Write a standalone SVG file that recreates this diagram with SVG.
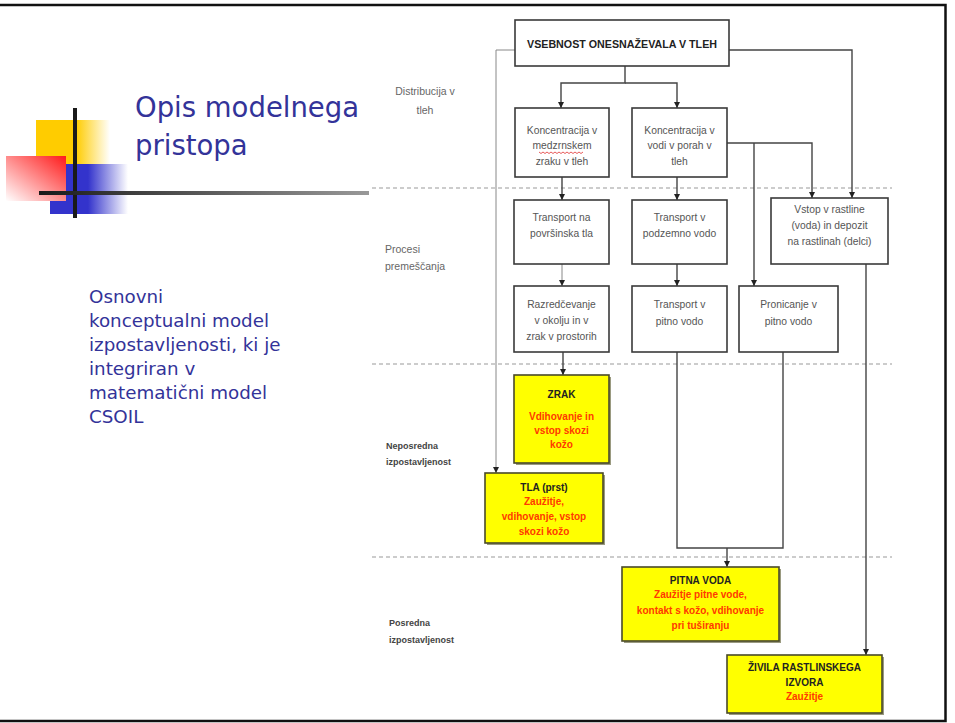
<svg xmlns="http://www.w3.org/2000/svg" width="955" height="723" viewBox="0 0 955 723">
<style>
.box{fill:#ffffff;stroke:#3a3a3a;stroke-width:1.6}
.ybox{fill:#ffff00;stroke:#4a4a2a;stroke-width:1.6}
.shadow{fill:#9a9a80}
.t{font-family:"Liberation Sans",Arial,sans-serif;font-size:10.3px;fill:#555555;text-anchor:middle}
.tb{font-family:"Liberation Sans",Arial,sans-serif;font-size:10px;font-weight:bold;fill:#222222;text-anchor:middle}
.tr{font-family:"Liberation Sans",Arial,sans-serif;font-size:10px;font-weight:bold;fill:#ff3a00;text-anchor:middle}
.lbl{font-family:"Liberation Sans",Arial,sans-serif;font-size:10.5px;fill:#666666}
.lblb{font-family:"Liberation Sans",Arial,sans-serif;font-size:9px;font-weight:bold;fill:#444444}
.conn{fill:none;stroke:#444444;stroke-width:1.4}
.thin{fill:none;stroke:#888888;stroke-width:1}
.dash{fill:none;stroke:#9a9a9a;stroke-width:1.2;stroke-dasharray:4 3}
.title{font-family:"DejaVu Sans",Tahoma,sans-serif;font-size:27.5px;fill:#333399}
.body{font-family:"DejaVu Sans",Tahoma,sans-serif;font-size:18.3px;fill:#333399}
</style>
<defs>
<marker id="arr" viewBox="0 0 6 6" refX="6" refY="3" markerWidth="6" markerHeight="6" markerUnits="userSpaceOnUse" orient="auto">
<path d="M0,0 L6,3 L0,6 z" fill="#222222"/>
</marker>
<linearGradient id="gy" x1="0" y1="0" x2="1" y2="0">
<stop offset="0" stop-color="#ffcc00"/>
<stop offset="1" stop-color="#ffcc00" stop-opacity="0"/>
</linearGradient>
<linearGradient id="gb" x1="0" y1="0" x2="1" y2="0">
<stop offset="0" stop-color="#3333cc"/>
<stop offset="1" stop-color="#3333cc" stop-opacity="0"/>
</linearGradient>
<linearGradient id="gr" x1="1" y1="0" x2="0" y2="1">
<stop offset="0" stop-color="#ff1a1a"/>
<stop offset="1" stop-color="#ffffff"/>
</linearGradient>
<linearGradient id="gl" x1="0" y1="0" x2="1" y2="0">
<stop offset="0" stop-color="#1a1a1a"/>
<stop offset="1" stop-color="#999999"/>
</linearGradient>
</defs>

<rect x="0" y="0" width="955" height="723" fill="#ffffff"/>
<rect x="-5" y="5" width="950.5" height="716" fill="none" stroke="#111111" stroke-width="2.5"/>

<g id="decor">
<rect x="36" y="120" width="40" height="44" fill="#ffcc00"/>
<rect x="76" y="120" width="34" height="44" fill="url(#gy)"/>
<rect x="50" y="164" width="38" height="50" fill="#3333cc"/>
<rect x="88" y="164" width="40" height="50" fill="url(#gb)"/>
<rect x="6" y="156" width="60" height="45" fill="url(#gr)"/>
<rect x="73" y="108" width="4" height="110" fill="#1a1a1a"/>
<rect x="39" y="191" width="330" height="4" fill="url(#gl)"/>
</g>

<g id="title">
<text class="title" x="135" y="117">Opis modelnega</text>
<text class="title" x="135" y="155">pristopa</text>
</g>

<g id="description">
<text class="body" x="89" y="303">Osnovni</text>
<text class="body" x="89" y="327">konceptualni model</text>
<text class="body" x="89" y="351">izpostavljenosti, ki je</text>
<text class="body" x="89" y="375">integriran v</text>
<text class="body" x="89" y="399">matematični model</text>
<text class="body" x="89" y="423">CSOIL</text>
</g>

<g id="separators">
<line class="dash" x1="372" y1="188" x2="892" y2="188"/>
<line class="dash" x1="372" y1="364" x2="892" y2="364"/>
<line class="dash" x1="372" y1="557" x2="892" y2="557"/>
</g>

<g id="side-labels">
<text class="lbl" x="425" y="95" text-anchor="middle">Distribucija v</text>
<text class="lbl" x="425" y="114" text-anchor="middle">tleh</text>
<text class="lbl" x="385" y="253">Procesi</text>
<text class="lbl" x="385" y="270">premeščanja</text>
<text class="lblb" x="386" y="449">Neposredna</text>
<text class="lblb" x="386" y="465">izpostavljenost</text>
<text class="lblb" x="389" y="626">Posredna</text>
<text class="lblb" x="389" y="643">izpostavljenost</text>
</g>

<g id="connectors">
<path class="conn" d="M625,66 V83 H561 V108" marker-end="url(#arr)"/>
<path class="conn" d="M625,83 H677 V108" marker-end="url(#arr)"/>
<path class="thin" d="M515,50 H496 V473" marker-end="url(#arr)"/>
<path class="conn" d="M729,50 H852 V198" marker-end="url(#arr)"/>
<path class="conn" d="M727,143 H812 V198" marker-end="url(#arr)"/>
<path class="conn" d="M754,143 V286" marker-end="url(#arr)"/>
<path class="conn" d="M562,177 V200" marker-end="url(#arr)"/>
<path class="thin" d="M562,264 V286" marker-end="url(#arr)"/>
<path class="conn" d="M563,352 V375" marker-end="url(#arr)"/>
<path class="conn" d="M677,177 V200" marker-end="url(#arr)"/>
<path class="conn" d="M677,264 V286" marker-end="url(#arr)"/>
<path class="conn" d="M677,352 V548 H783 V352"/>
<path class="conn" d="M727,548 V567" marker-end="url(#arr)"/>
<path class="conn" d="M866,264 V655" marker-end="url(#arr)"/>
</g>

<g id="node-vsebnost">
<rect class="box" x="515" y="20" width="214" height="46"/>
<text class="tb" x="622" y="48" font-size="10.5" textLength="190" lengthAdjust="spacingAndGlyphs">VSEBNOST ONESNAŽEVALA V TLEH</text>
</g>

<g id="node-konc-zrak">
<rect class="box" x="515" y="108" width="94" height="69"/>
<text class="t" x="562" y="134">Koncentracija  v</text>
<text class="t" x="562" y="149">medzrnskem</text>
<path d="M539,152 l2,1.5 l2,-1.5 l2,1.5 l2,-1.5 l2,1.5 l2,-1.5 l2,1.5 l2,-1.5 l2,1.5 l2,-1.5 l2,1.5 l2,-1.5 l2,1.5 l2,-1.5 l2,1.5 l2,-1.5 l2,1.5 l2,-1.5 l2,1.5 l2,-1.5 l2,1.5 l2,-1.5" fill="none" stroke="#e03030" stroke-width="0.8"/>
<text class="t" x="562" y="165">zraku v tleh</text>
</g>

<g id="node-konc-voda">
<rect class="box" x="632" y="108" width="95" height="69"/>
<text class="t" x="679.5" y="134">Koncentracija v</text>
<text class="t" x="679.5" y="149">vodi v porah v</text>
<text class="t" x="679.5" y="165">tleh</text>
</g>

<g id="node-transport-tla">
<rect class="box" x="514" y="200" width="95" height="64"/>
<text class="t" x="561.5" y="221">Transport na</text>
<text class="t" x="561.5" y="237">površinska tla</text>
</g>

<g id="node-transport-podzemna">
<rect class="box" x="632" y="200" width="95" height="64"/>
<text class="t" x="679.5" y="221">Transport v</text>
<text class="t" x="679.5" y="237">podzemno vodo</text>
</g>

<g id="node-vstop">
<rect class="box" x="771" y="198" width="117" height="66"/>
<text class="t" x="829.5" y="213">Vstop v rastline</text>
<text class="t" x="829.5" y="229">(voda)  in depozit</text>
<text class="t" x="829.5" y="245">na rastlinah (delci)</text>
</g>

<g id="node-razredcevanje">
<rect class="box" x="514" y="286" width="95" height="66"/>
<text class="t" x="561.5" y="308">Razredčevanje</text>
<text class="t" x="561.5" y="324">v okolju in v</text>
<text class="t" x="561.5" y="340">zrak v prostorih</text>
</g>

<g id="node-transport-pitna">
<rect class="box" x="632" y="286" width="95" height="66"/>
<text class="t" x="679.5" y="308">Transport v</text>
<text class="t" x="679.5" y="325">pitno vodo</text>
</g>

<g id="node-pronicanje">
<rect class="box" x="739" y="286" width="99" height="66"/>
<text class="t" x="788.5" y="308">Pronicanje  v</text>
<text class="t" x="788.5" y="325">pitno vodo</text>
</g>

<g id="node-zrak">
<rect class="shadow" x="516" y="377" width="95" height="88"/>
<rect class="ybox" x="514" y="375" width="95" height="88"/>
<text class="tb" x="561.5" y="398">ZRAK</text>
<text class="tr" x="561.5" y="420">Vdihovanje  in</text>
<text class="tr" x="561.5" y="434">vstop  skozi</text>
<text class="tr" x="561.5" y="448">kožo</text>
</g>

<g id="node-tla">
<rect class="shadow" x="487" y="475" width="118" height="70"/>
<rect class="ybox" x="485" y="473" width="118" height="70"/>
<text class="tb" x="544" y="491">TLA (prst)</text>
<text class="tr" x="544" y="505">Zaužitje,</text>
<text class="tr" x="544" y="520">vdihovanje,  vstop</text>
<text class="tr" x="544" y="535">skozi  kožo</text>
</g>

<g id="node-pitna">
<rect class="shadow" x="624" y="569" width="157" height="74"/>
<rect class="ybox" x="622" y="567" width="157" height="74"/>
<text class="tb" x="700.5" y="584">PITNA VODA</text>
<text class="tr" x="700.5" y="598">Zaužitje pitne vode,</text>
<text class="tr" x="700.5" y="614">kontakt s kožo, vdihovanje</text>
<text class="tr" x="700.5" y="629">pri tuširanju</text>
</g>

<g id="node-zivila">
<rect class="shadow" x="729" y="657" width="155" height="58"/>
<rect class="ybox" x="727" y="655" width="155" height="58"/>
<text class="tb" x="804.5" y="671">ŽIVILA RASTLINSKEGA</text>
<text class="tb" x="804.5" y="686">IZVORA</text>
<text class="tr" x="804.5" y="700">Zaužitje</text>
</g>
</svg>
